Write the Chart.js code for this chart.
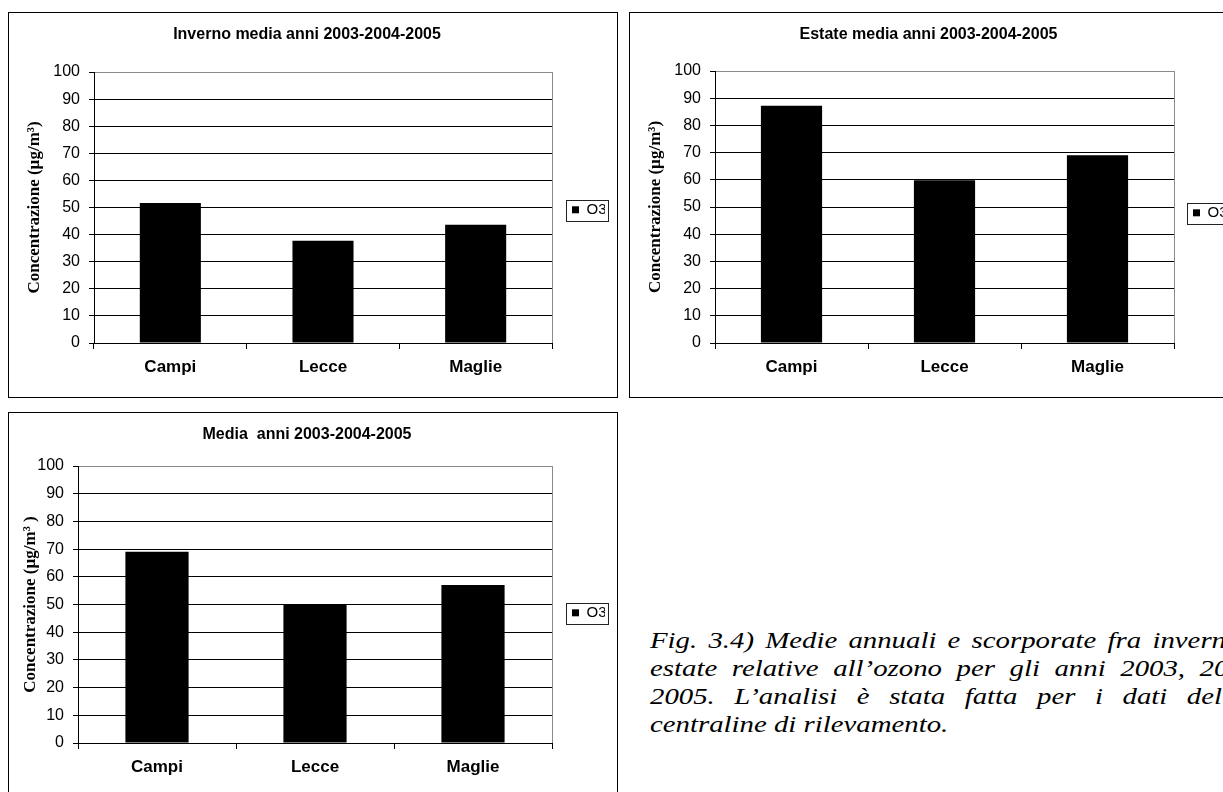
<!DOCTYPE html>
<html>
<head>
<meta charset="utf-8">
<script src="https://cdn.jsdelivr.net/npm/chart.js@4.4.0/dist/chart.umd.min.js"></script>
<style>
  html, body { margin: 0; padding: 0; background: #fff; }
  body { width: 1223px; height: 792px; overflow: hidden; position: relative; }
  .box { position: absolute; border: 1px solid #000; background: #fff; }
  .box canvas { display: block; }
  .caption {
    position: absolute; left: 650px; top: 626px;
    font: italic 24px "Liberation Serif", "Times New Roman", serif;
    line-height: 28px; color: #000; white-space: nowrap;
    transform: scaleX(1.2); transform-origin: 0 0;
  }
  .caption div { width: 512px; text-align: justify; text-align-last: justify; }
</style>
</head>
<body>
<div class="box" style="left:8px; top:12px; width:608px; height:384px;"><canvas id="c1" width="608" height="384"></canvas></div>
<div class="box" style="left:629px; top:12px; width:608px; height:384px;"><canvas id="c2" width="608" height="384"></canvas></div>
<div class="box" style="left:8px; top:412px; width:608px; height:384px;"><canvas id="c3" width="608" height="384"></canvas></div>

<div class="caption">
  <div>Fig. 3.4) Medie annuali e scorporate fra inverno e</div>
  <div>estate relative all’ozono per gli anni 2003, 2004,</div>
  <div style="width:494px">2005. L’analisi è stata fatta per i dati delle</div>
  <div style="text-align-last:left">centraline di rilevamento.</div>
</div>

<script>
// data
const categories = ['Campi', 'Lecce', 'Maglie'];
const seriesName = 'O3';
const invernoValues = [51.7, 37.7, 43.6];
const estateValues = [87.2, 59.8, 69.0];
const mediaValues = [69.0, 50.0, 57.0];
const yMin = 0, yMax = 100, yStep = 10;

const titles = [
  'Inverno media anni 2003-2004-2005',
  'Estate media anni 2003-2004-2005',
  'Media  anni 2003-2004-2005'
];
const yTitles = [
  'Concentrazione (µg/m³)',
  'Concentrazione (µg/m³)',
  'Concentrazione (µg/m³ )'
];

const sans = '"Liberation Sans", Arial, sans-serif';
const serif = '"Liberation Serif", "Times New Roman", serif';

// draws the thin frame round the legend item
const legendFrame = {
  id: 'legendFrame',
  afterDraw(chart) {
    const hb = chart.legend && chart.legend.legendHitBoxes && chart.legend.legendHitBoxes[0];
    if (!hb) return;
    const ctx = chart.ctx;
    const cy = hb.top + hb.height / 2;
    ctx.save();
    ctx.strokeStyle = '#222';
    ctx.lineWidth = 1;
    ctx.strokeRect(Math.round(hb.left - 6) + 0.5, Math.round(cy - 10) + 0.5, 42, 21);
    ctx.restore();
  }
};

function makeChart(id, title, yTitle, values, lay) {
  return new Chart(document.getElementById(id), {
    type: 'bar',
    data: {
      labels: categories,
      datasets: [{
        label: seriesName,
        data: values,
        backgroundColor: '#000',
        borderColor: '#000',
        borderWidth: 0,
        barPercentage: 0.4,
        categoryPercentage: 1.0
      }]
    },
    options: {
      responsive: false,
      animation: false,
      devicePixelRatio: 1,
      layout: { padding: { left: 0, top: 0, bottom: 0, right: lay.padRight } },
      plugins: {
        title: {
          display: true,
          text: title,
          color: '#000',
          font: { family: sans, size: 16, weight: 'bold' },
          padding: { top: 12, bottom: lay.plotTop - 12 - 19.2 }
        },
        legend: {
          position: 'right',
          maxWidth: lay.legendWidth,
          title: { display: true, text: ' ', padding: 0, font: { size: lay.legendShift } },
          labels: {
            color: '#000',
            font: { family: sans, size: 15 },
            boxWidth: 7,
            boxHeight: 7,
            padding: lay.legendPad
          }
        },
        tooltip: { enabled: false }
      },
      scales: {
        x: {
          afterFit(s) { s.height = 384 - lay.plotBottom; },
          grid: {
            offset: true,
            drawOnChartArea: true,
            color: c => c.type === 'tick' ? 'rgba(0,0,0,0)' : '#8a8a8a',
            tickColor: '#000',
            tickLength: 6
          },
          border: { color: '#000', width: 1 },
          ticks: { color: '#000', padding: 8, font: { family: sans, size: 17, weight: 'bold' } }
        },
        y: {
          min: yMin,
          max: yMax,
          afterFit(s) { s.width = lay.plotLeft; },
          ticks: { stepSize: yStep, color: '#000', padding: 9, font: { family: sans, size: 16 } },
          grid: {
            color: c => (c.tick && c.tick.value === yMax) ? '#8a8a8a' : '#000',
            tickColor: '#000',
            tickLength: 5
          },
          border: { color: '#000', width: 1 },
          title: {
            display: true,
            text: yTitle,
            color: '#000',
            font: { family: serif, size: 17, weight: 'bold' },
            padding: { top: lay.yTitleX - 10.2, bottom: 0 }
          }
        }
      }
    },
    plugins: [legendFrame]
  });
}

makeChart('c1', titles[0], yTitles[0], invernoValues,
  { plotLeft: 85, plotTop: 59, plotBottom: 330, padRight: 12, legendWidth: 53, legendPad: 20, legendShift: 8, yTitleX: 26 });
makeChart('c2', titles[1], yTitles[1], estateValues,
  { plotLeft: 85, plotTop: 58, plotBottom: 330, padRight: 11, legendWidth: 53, legendPad: 19, legendShift: 13, yTitleX: 26 });
makeChart('c3', titles[2], yTitles[2], mediaValues,
  { plotLeft: 69, plotTop: 53, plotBottom: 330, padRight: 12, legendWidth: 53, legendPad: 20, legendShift: 13, yTitleX: 22 });
</script>
</body>
</html>
